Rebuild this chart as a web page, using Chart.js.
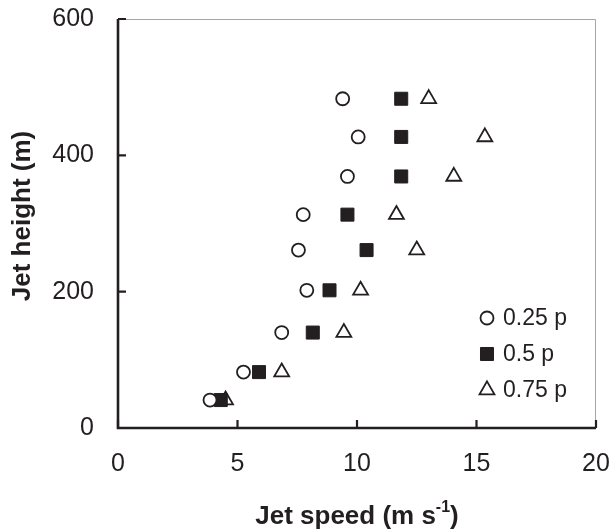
<!DOCTYPE html>
<html>
<head>
<meta charset="utf-8">
<script src="https://cdn.jsdelivr.net/npm/chart.js@4.4.1/dist/chart.umd.min.js"></script>
<style>
  html, body { margin: 0; padding: 0; background: #fff; }
  #wrap { width: 611px; height: 532px; }
</style>
</head>
<body>
<div id="wrap"><canvas id="c" width="611" height="532"></canvas></div>
<script>
// Jet heights (m) and jet speeds (m s-1) for three pressure levels
const jetHeight = [483, 427, 369, 313, 261, 202, 140, 82, 41];
const speedQ25  = [9.4, 10.05, 9.6, 7.75, 7.55, 7.9, 6.85, 5.25, 3.85];
const speedQ50  = [11.85, 11.85, 11.85, 9.6, 10.4, 8.85, 8.15, 5.9, 4.3];
const speedQ75  = [13.0, 15.35, 14.05, 11.65, 12.5, 10.15, 9.45, 6.85, 4.5];
const seriesLabels = ['0.25 p', '0.5 p', '0.75 p'];
const xTickValues = [0, 5, 10, 15, 20];
const yTickValues = [0, 200, 400, 600];

const ink = '#231f20';
const FONT = "'Liberation Sans', Arial, Helvetica, sans-serif";

const toPoints = (xs) => xs.map((v, i) => ({ x: v, y: jetHeight[i] }));

const styles = [
  { pointStyle: 'circle',   radius: 6.5, fill: '#ffffff', border: 1.8 },
  { pointStyle: 'rect',     radius: 9.2, fill: ink,       border: 1 },
  { pointStyle: 'triangle', radius: 8.6, fill: '#ffffff', border: 1.8 }
];

// Axis lines, thin frame on top/right and inward tick marks
const axisFrame = {
  id: 'axisFrame',
  beforeDatasetsDraw(chart) {
    const { ctx, chartArea: a, scales: { x, y } } = chart;
    ctx.save();
    ctx.strokeStyle = '#a6a6a6';
    ctx.lineWidth = 1;
    ctx.beginPath();
    ctx.moveTo(a.left, a.top + 0.5);
    ctx.lineTo(a.right - 0.5, a.top + 0.5);
    ctx.lineTo(a.right - 0.5, a.bottom);
    ctx.stroke();

    ctx.strokeStyle = ink;
    ctx.lineWidth = 2.6;
    ctx.lineJoin = 'miter';
    ctx.beginPath();
    ctx.moveTo(a.left, a.top);
    ctx.lineTo(a.left, a.bottom);
    ctx.lineTo(a.right, a.bottom);
    ctx.stroke();

    ctx.lineWidth = 2.2;
    ctx.beginPath();
    xTickValues.forEach(v => {
      const px = x.getPixelForValue(v);
      ctx.moveTo(px, a.bottom);
      ctx.lineTo(px, a.bottom - 8);
    });
    yTickValues.forEach(v => {
      const py = y.getPixelForValue(v);
      ctx.moveTo(a.left, py);
      ctx.lineTo(a.left + 8, py);
    });
    ctx.stroke();
    ctx.restore();
  }
};

// Axis titles (x title carries a superscript) and the in-plot legend
const titlesAndLegend = {
  id: 'titlesAndLegend',
  afterDraw(chart) {
    const { ctx, chartArea: a } = chart;
    ctx.save();
    ctx.fillStyle = ink;

    // x-axis title
    const main = 'Jet speed (m s', sup = '-1', close = ')';
    const big = `bold 26px ${FONT}`, small = `bold 16px ${FONT}`;
    ctx.font = big;
    const w1 = ctx.measureText(main).width, w3 = ctx.measureText(close).width;
    ctx.font = small;
    const w2 = ctx.measureText(sup).width;
    const cx = (a.left + a.right) / 2;
    let sx = cx - (w1 + w2 + w3) / 2;
    const base = 524;
    ctx.textBaseline = 'alphabetic';
    ctx.textAlign = 'left';
    ctx.font = big;
    ctx.fillText(main, sx, base);
    sx += w1;
    ctx.font = small;
    ctx.fillText(sup, sx, base - 12);
    sx += w2;
    ctx.font = big;
    ctx.fillText(close, sx, base);

    // y-axis title
    ctx.save();
    ctx.translate(23, 216);
    ctx.rotate(-Math.PI / 2);
    ctx.textAlign = 'center';
    ctx.textBaseline = 'middle';
    ctx.font = big;
    ctx.fillText('Jet height (m)', 0, 0);
    ctx.restore();

    // legend
    const lx = 487, rows = [318, 354, 390];
    chart.data.datasets.forEach((ds, i) => {
      const st = styles[i];
      const yy = rows[i];
      ctx.strokeStyle = ink;
      ctx.fillStyle = st.fill;
      ctx.lineWidth = st.border;
      ctx.beginPath();
      if (st.pointStyle === 'circle') {
        ctx.arc(lx, yy, st.radius, 0, Math.PI * 2);
      } else if (st.pointStyle === 'rect') {
        const s = st.radius * Math.SQRT1_2;
        ctx.rect(lx - s, yy - s, 2 * s, 2 * s);
      } else {
        const r = st.radius;
        ctx.moveTo(lx, yy - r);
        ctx.lineTo(lx + r * Math.sin(Math.PI * 2 / 3), yy + r / 2);
        ctx.lineTo(lx - r * Math.sin(Math.PI * 2 / 3), yy + r / 2);
        ctx.closePath();
      }
      ctx.fill();
      ctx.stroke();
      ctx.fillStyle = ink;
      ctx.font = `23px ${FONT}`;
      ctx.textAlign = 'left';
      ctx.textBaseline = 'middle';
      ctx.fillText(ds.label, 503, yy + 1);
    });
    ctx.restore();
  }
};

const datasets = [speedQ25, speedQ50, speedQ75].map((vals, i) => ({
  label: seriesLabels[i],
  data: toPoints(vals),
  pointStyle: styles[i].pointStyle,
  pointRadius: styles[i].radius,
  pointHoverRadius: styles[i].radius,
  pointBackgroundColor: styles[i].fill,
  pointBorderColor: ink,
  pointBorderWidth: styles[i].border,
  showLine: false
}));

new Chart(document.getElementById('c'), {
  type: 'scatter',
  data: { datasets },
  plugins: [axisFrame, titlesAndLegend],
  options: {
    responsive: false,
    animation: false,
    devicePixelRatio: 1,
    layout: { padding: { top: 19, right: 15, left: 0, bottom: 0 } },
    plugins: { legend: { display: false }, tooltip: { enabled: false } },
    scales: {
      x: {
        type: 'linear',
        min: 0, max: 20,
        afterFit: (s) => { s.height = 104; s.paddingLeft = 0; s.paddingRight = 0; },
        afterBuildTicks: (s) => { s.ticks = xTickValues.map(v => ({ value: v })); },
        grid: { display: false, drawTicks: false },
        border: { display: false },
        ticks: { color: ink, font: { family: FONT, size: 25 }, padding: 21, maxRotation: 0 }
      },
      y: {
        type: 'linear',
        min: 0, max: 600,
        afterFit: (s) => { s.width = 118; s.paddingTop = 0; s.paddingBottom = 0; },
        afterBuildTicks: (s) => { s.ticks = yTickValues.map(v => ({ value: v })); },
        grid: { display: false, drawTicks: false },
        border: { display: false },
        ticks: { color: ink, font: { family: FONT, size: 25 }, padding: 24 }
      }
    }
  }
});
</script>
</body>
</html>
